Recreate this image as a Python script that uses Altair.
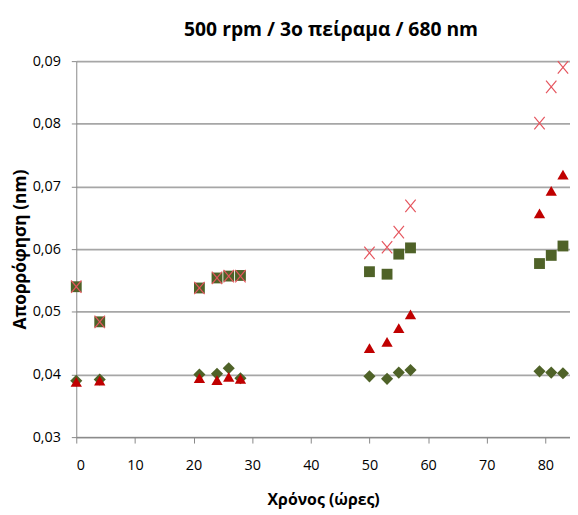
import altair as alt
import pandas as pd

hours = [0, 4, 21, 24, 26, 28, 50, 53, 55, 57, 79, 81, 83]
squares = [0.0540, 0.0484, 0.0538, 0.0554, 0.0557, 0.0558, 0.0564, 0.0560, 0.0592, 0.0602, 0.0577, 0.0590, 0.0605]
crosses = [0.0540, 0.0484, 0.0538, 0.0554, 0.0557, 0.0557, 0.0594, 0.0603, 0.0627, 0.0669, 0.0801, 0.0859, 0.0890]
diamonds = [0.0390, 0.0392, 0.0400, 0.0401, 0.0410, 0.0394, 0.0397, 0.0393, 0.0403, 0.0407, 0.0405, 0.0403, 0.0402]
triangles = [0.0388, 0.0390, 0.0394, 0.0391, 0.0396, 0.0393, 0.0442, 0.0452, 0.0474, 0.0496, 0.0657, 0.0693, 0.0719]

x_ticks = [0, 10, 20, 30, 40, 50, 60, 70, 80]
y_ticks = [0.03, 0.04, 0.05, 0.06, 0.07, 0.08, 0.09]

FONT = "Open Sans"

def frame(vals):
    return pd.DataFrame({"t": hours, "a": vals})

xenc = alt.X("t:Q", scale=alt.Scale(domain=[0, 84.2], nice=False, zero=False),
             axis=alt.Axis(values=x_ticks, title="Χρόνος (ώρες)", grid=False,
                           tickSize=6, labelPadding=16, titlePadding=20,
                           titleFontSize=16, labelFontSize=14.5))
yenc = alt.Y("a:Q", scale=alt.Scale(domain=[0.03, 0.09], nice=False, zero=False),
             axis=alt.Axis(values=y_ticks, title="Απορρόφηση (nm)", grid=True,
                           tickSize=5, labelPadding=11, titlePadding=3,
                           titleFontSize=17.5, labelFontSize=14.5,
                           labelExpr="replace(format(datum.value, '.2f'), '.', ',')"))

sq = alt.Chart(frame(squares)).mark_point(shape="square", filled=True, size=120,
                                          color="#4F6228", opacity=1).encode(x=xenc, y=yenc)
cr = alt.Chart(frame(crosses)).mark_point(shape="M-1,-1.2L1,1.2M-1,1.2L1,-1.2", filled=False,
                                          size=110, color="#E5555E", strokeWidth=1.2,
                                          opacity=1).encode(x=xenc, y=yenc)
di = alt.Chart(frame(diamonds)).mark_point(shape="diamond", filled=True, size=150,
                                           color="#4F6228", opacity=1).encode(x=xenc, y=yenc)
tr = alt.Chart(frame(triangles)).mark_point(shape="triangle-up", filled=True, size=130,
                                            color="#C00000", opacity=1).encode(x=xenc, y=yenc)

chart = alt.layer(sq, cr, di, tr).properties(
    width=499, height=380,
    autosize=alt.AutoSizeParams(type="none"),
    padding={"left": 69, "top": 51, "right": 0, "bottom": 76},
    title=alt.TitleParams("500 rpm / 3ο πείραμα / 680 nm", font=FONT, fontSize=19.5,
                          fontWeight="bold", anchor="middle", offset=13, dx=8,
                          color="#000000"),
).configure_view(stroke=None).configure_axis(
    labelFont=FONT, titleFont=FONT, titleFontWeight="bold", labelColor="#000000",
    titleColor="#000000", domainColor="#888888", tickColor="#888888",
    gridColor="#A6A6A6", gridWidth=1.8,
)

chart.save("out.html", embed_options={"renderer": "svg", "actions": False})
